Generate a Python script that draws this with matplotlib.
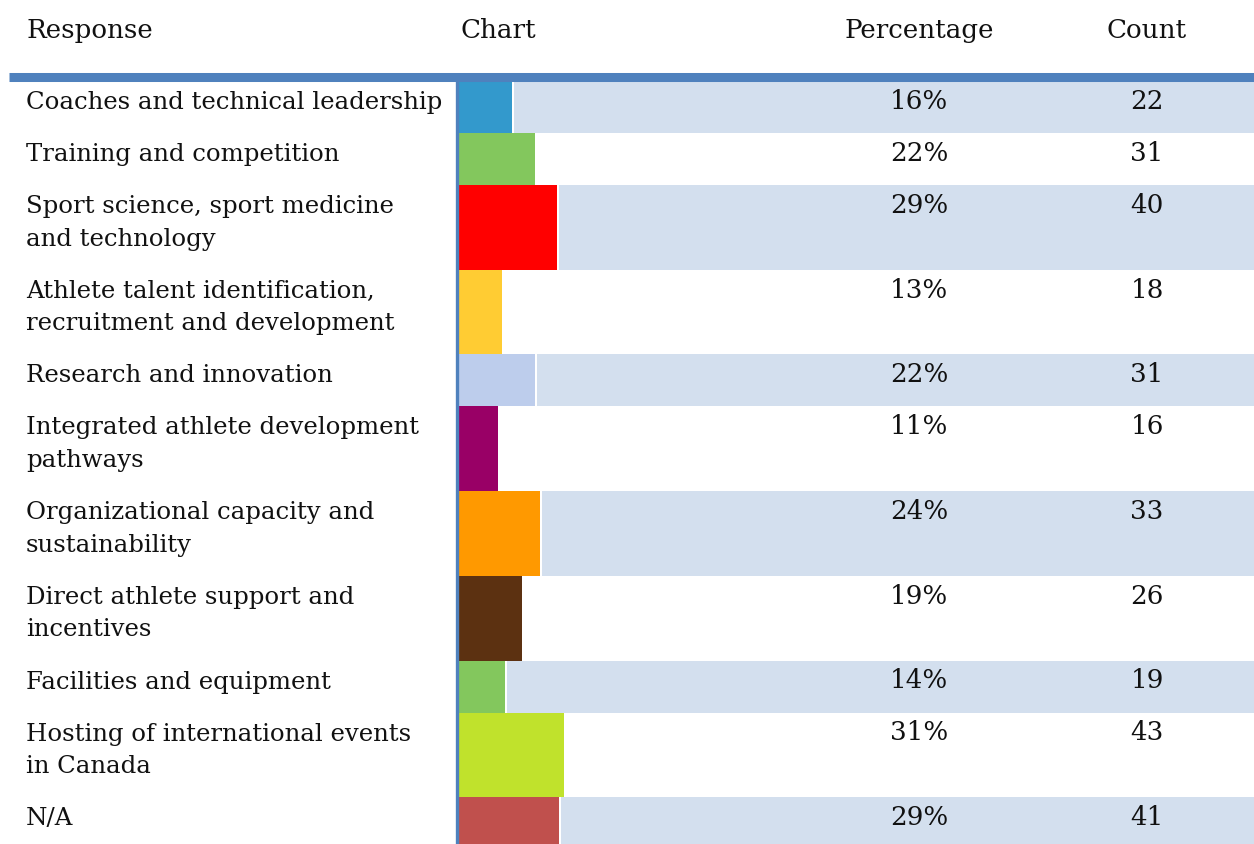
import numpy as np
import matplotlib
matplotlib.use("Agg")
import matplotlib.pyplot as plt

# dados da tabela
respostas = [
    "Coaches and technical leadership",
    "Training and competition",
    "Sport science, sport medicine\nand technology",
    "Athlete talent identification,\nrecruitment and development",
    "Research and innovation",
    "Integrated athlete development\npathways",
    "Organizational capacity and\nsustainability",
    "Direct athlete support and\nincentives",
    "Facilities and equipment",
    "Hosting of international events\nin Canada",
    "N/A",
]
percentagens = [16, 22, 29, 13, 22, 11, 24, 19, 14, 31, 29]
contagens = [22, 31, 40, 18, 31, 16, 33, 26, 19, 43, 41]
cores = ["#3399CC", "#83C75D", "#FF0000", "#FFCC33", "#BDCDEC", "#990066",
         "#FF9900", "#5C3111", "#83C75D", "#C0E22C", "#C0504D"]
cabecalho = ["Response", "Chart", "Percentage", "Count"]

W, H = 1254, 844
fig = plt.figure(figsize=(W / 100, H / 100), dpi=100)
ax = fig.add_axes([0, 0, 1, 1])
ax.set_xlim(0, W)
ax.set_ylim(H, 0)
ax.axis("off")

fonte = dict(family="DejaVu Serif", fontsize=18.8, color="#111111")
fonte_rotulo = dict(family="DejaVu Serif", fontsize=17.6, color="#111111")

# geometria das linhas
topo = 81
alt_simples = 52
alt_linha = 32.7
x_barra = 458
px_por_contagem = 2.47
x_pct = 919
x_cnt = 1147

# cabeçalho
ax.text(26, 38, cabecalho[0], ha="left", va="baseline", **fonte)
ax.text(461, 38, cabecalho[1], ha="left", va="baseline", **fonte)
ax.text(x_pct, 38, cabecalho[2], ha="center", va="baseline", **fonte)
ax.text(x_cnt, 38, cabecalho[3], ha="center", va="baseline", **fonte)

n_linhas = [r.count("\n") + 1 for r in respostas]
alturas = np.array([alt_simples + (n - 1) * alt_linha for n in n_linhas])
topos = topo + np.concatenate([[0], np.cumsum(alturas)[:-1]])
centros = topos + alturas / 2
larguras = np.array(contagens) * px_por_contagem

# faixas azuis nas linhas ímpares
for i in range(0, len(respostas), 2):
    esq = x_barra + larguras[i] + 2
    ax.barh(centros[i], W - esq, left=esq, height=alturas[i],
            color="#D3DFEE", linewidth=0)

ax.barh(centros, larguras, left=x_barra, height=alturas, color=cores, linewidth=0)

for i, r in enumerate(respostas):
    base = topos[i] + 28
    for k, linha in enumerate(r.split("\n")):
        ax.text(26, base + k * alt_linha, linha, ha="left", va="baseline", **fonte_rotulo)
    ax.text(x_pct, base, f"{percentagens[i]}%", ha="center", va="baseline", **fonte)
    ax.text(x_cnt, base, str(contagens[i]), ha="center", va="baseline", **fonte)

# linha do cabeçalho e linha vertical
ax.plot([9, W], [77, 77], color="#4F81BD", linewidth=6.5, solid_capstyle="butt")
ax.plot([456.5, 456.5], [80, H], color="#4F81BD", linewidth=2.4, solid_capstyle="butt")

fig.savefig("out.png", dpi=100)
